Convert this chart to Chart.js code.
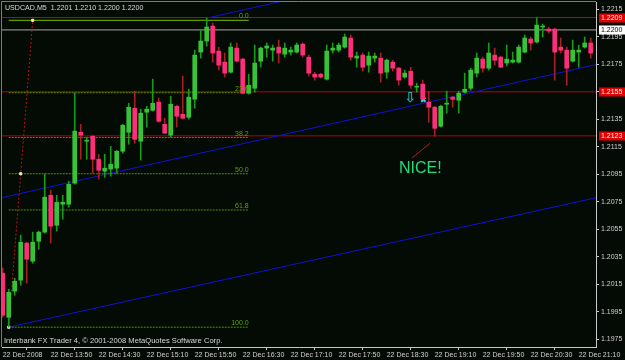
<!DOCTYPE html>
<html>
<head>
<meta charset="utf-8">
<title>USDCAD,M5</title>
<script src="https://cdn.jsdelivr.net/npm/chart.js@4.4.0/dist/chart.umd.min.js"></script>
<style>
    html, body { margin: 0; padding: 0; background: #040a04; }
    #wrap { width: 625px; height: 360px; }
</style>
</head>
<body>
<div id="wrap"><canvas id="myChart" width="625" height="360"></canvas></div>
<script>
// USDCAD M5, 22 Dec 2008, one entry per bar (bar 0 = 13:10)
var opens = [1.20232, 1.19911, 1.20101, 1.20181, 1.2045, 1.20319, 1.20464, 1.2053, 1.20798, 1.2058,
    1.20733, 1.20733, 1.20886, 1.21256, 1.21191, 1.21227, 1.2106, 1.20973, 1.20988, 1.20995,
    1.21118, 1.21256, 1.21431, 1.21191, 1.21402, 1.21416, 1.21475, 1.21314, 1.21235, 1.21445,
    1.21387, 1.21365, 1.21496, 1.21839, 1.21919, 1.22028, 1.21846, 1.21766, 1.21693, 1.21868,
    1.21788, 1.2154, 1.21576, 1.21773, 1.21868, 1.21853, 1.21875, 1.21824, 1.21839, 1.21839,
    1.21897, 1.21802, 1.21678, 1.21678, 1.21642, 1.21853, 1.21853, 1.21875, 1.21941, 1.21795,
    1.21817, 1.21744, 1.21795, 1.21795, 1.21693, 1.21766, 1.21722, 1.21657, 1.217, 1.21584,
    1.21606, 1.21475, 1.21438, 1.213, 1.2146, 1.21511, 1.21489, 1.21547, 1.21576, 1.21686,
    1.21788, 1.21722, 1.21817, 1.21802, 1.21759, 1.21766, 1.21766, 1.21839, 1.21934, 1.21912,
    1.22021, 1.22006, 1.22006, 1.21875, 1.21853, 1.21773, 1.21839, 1.21875, 1.21905];
var highs = [1.20268, 1.20115, 1.20195, 1.20508, 1.20457, 1.2053, 1.20537, 1.20951, 1.20835, 1.20798,
    1.20798, 1.209, 1.2154, 1.21314, 1.2122, 1.21235, 1.21096, 1.21096, 1.21154, 1.21125,
    1.21314, 1.21467, 1.21555, 1.21424, 1.21445, 1.21642, 1.21504, 1.21358, 1.21518, 1.21453,
    1.21664, 1.21569, 1.21853, 1.21999, 1.22086, 1.2205, 1.21875, 1.21832, 1.21905, 1.21905,
    1.21795, 1.21678, 1.2189, 1.21875, 1.21905, 1.2189, 1.21926, 1.21905, 1.21875, 1.21905,
    1.21905, 1.21817, 1.21693, 1.21686, 1.2189, 1.21905, 1.21905, 1.2197, 1.21963, 1.21839,
    1.21832, 1.21839, 1.21832, 1.21832, 1.21788, 1.2178, 1.21729, 1.21708, 1.21729, 1.21613,
    1.21635, 1.21555, 1.21445, 1.21453, 1.21555, 1.21518, 1.21555, 1.21686, 1.21722, 1.21832,
    1.21802, 1.21905, 1.21868, 1.2181, 1.2189, 1.21839, 1.2189, 1.21963, 1.21948, 1.22086,
    1.22043, 1.22021, 1.22013, 1.21941, 1.21875, 1.21926, 1.2189, 1.21948, 1.21941];
var lows = [1.19911, 1.19839, 1.20071, 1.20144, 1.20159, 1.20304, 1.20406, 1.20522, 1.2045, 1.20537,
    1.20624, 1.20711, 1.20878, 1.2106, 1.2106, 1.20958, 1.20915, 1.20929, 1.20937, 1.20958,
    1.21104, 1.21169, 1.21176, 1.21053, 1.21293, 1.21409, 1.21329, 1.21249, 1.2122, 1.21293,
    1.21351, 1.21351, 1.21431, 1.21795, 1.21883, 1.21766, 1.21708, 1.21657, 1.21686, 1.21766,
    1.21533, 1.21533, 1.21547, 1.21729, 1.21802, 1.21773, 1.21759, 1.21802, 1.21817, 1.21832,
    1.21802, 1.21664, 1.21635, 1.2165, 1.21635, 1.21832, 1.21839, 1.21868, 1.2178, 1.21729,
    1.217, 1.21693, 1.21766, 1.2162, 1.21649, 1.217, 1.21598, 1.21649, 1.21576, 1.21547,
    1.21482, 1.21329, 1.21227, 1.21293, 1.21395, 1.21438, 1.21395, 1.2154, 1.21562, 1.21657,
    1.21693, 1.21708, 1.21744, 1.21729, 1.21737, 1.21759, 1.21759, 1.21832, 1.21853, 1.21905,
    1.21948, 1.21977, 1.21635, 1.21832, 1.21598, 1.21766, 1.21729, 1.21868, 1.21795];
var closes = [1.19926, 1.20093, 1.20173, 1.20457, 1.20333, 1.20457, 1.2053, 1.20784, 1.20573, 1.20747,
    1.20747, 1.20878, 1.21264, 1.21235, 1.21198, 1.2106, 1.2098, 1.20995, 1.21024, 1.21118,
    1.21307, 1.21438, 1.21205, 1.21395, 1.21424, 1.21467, 1.21336, 1.21249, 1.2146, 1.21373,
    1.21358, 1.21511, 1.21817, 1.21919, 1.22021, 1.21832, 1.21744, 1.21686, 1.21875, 1.21773,
    1.2154, 1.21598, 1.21759, 1.21868, 1.21883, 1.21868, 1.21832, 1.21868, 1.21853, 1.2189,
    1.21817, 1.21686, 1.21657, 1.21657, 1.21846, 1.21868, 1.2189, 1.21948, 1.21802, 1.2181,
    1.21729, 1.2181, 1.2181, 1.21686, 1.2178, 1.21722, 1.21635, 1.21686, 1.21598, 1.21591,
    1.21496, 1.21438, 1.21285, 1.21445, 1.21467, 1.21496, 1.2154, 1.21569, 1.21708, 1.21795,
    1.21722, 1.21832, 1.2178, 1.21729, 1.21788, 1.2178, 1.21875, 1.21941, 1.21905, 1.22035,
    1.22028, 1.21992, 1.21839, 1.21853, 1.21722, 1.21853, 1.21853, 1.21905, 1.21832];

var timeTickBars = [0, 8, 16, 24, 32, 40, 48, 56, 64, 72, 80, 88, 96];
var timeLabels = ['22 Dec 2008', '22 Dec 13:50', '22 Dec 14:30', '22 Dec 15:10', '22 Dec 15:50',
    '22 Dec 16:30', '22 Dec 17:10', '22 Dec 17:50', '22 Dec 18:30', '22 Dec 19:10',
    '22 Dec 19:50', '22 Dec 20:30', '22 Dec 21:10'];
var priceTicks = [1.1975, 1.1995, 1.2015, 1.2035, 1.2055, 1.2075, 1.2095, 1.2115, 1.2135,
    1.2155, 1.2175, 1.2195, 1.2215];

// horizontal lines with their tag on the price axis
var levelPrices = [1.2209, 1.2200, 1.2155, 1.2123];
var levelColors = ['#d00000', '#a8a8a8', '#c00000', '#b00000'];
var levelTagBg = ['#e00000', '#ffffff', '#e00000', '#e00000'];
var levelTagFg = ['#ffffff', '#000000', '#ffffff', '#ffffff'];

// fibonacci retracement: anchors (bar, price) and levels
var fibLowBar = 1, fibLow = 1.19839;
var fibHighBar = 5, fibHigh = 1.2207;
var fibEndBar = 41;
var fibLevels = [0, 23.6, 38.2, 50, 61.8, 100];

// blue channel lines [bar, price] pairs
var channelLower = [[1, 1.19839], [98.88, 1.2078]];
var channelMiddle = [[-0.12, 1.20781], [98.88, 1.21748]];
var channelUpper = [[34, 1.22086], [52, 1.22262]];
var pointerLine = [[68.2, 1.21068], [71.2, 1.21176]];

var xMin = -0.12, xMax = 98.88;
var yMin = 1.19695, yMax = 1.22203;

var FONT = 'Liberation Sans';
Chart.defaults.font.family = FONT;
Chart.defaults.font.size = 7;

function isUp(i) {
    return closes[i] >= opens[i];
}

var bodies = [];
var wicks = [];
for (var i = 0; i < opens.length; i++) {
    bodies.push({x: i, y: [opens[i], closes[i]]});
    wicks.push({x: i, y: [lows[i], highs[i]]});
}

function seg(points) {
    return points.map(function (p) { return {x: p[0], y: p[1]}; });
}

function lineSet(data, color, dash, order) {
    return {
        type: 'line', data: data, borderColor: color, borderWidth: 1,
        borderDash: dash || [], pointRadius: 0, order: order || 5
    };
}

// no automatic padding, the plot box is fixed like the terminal window
function noPad(s) {
    s.paddingLeft = 0;
    s.paddingRight = 0;
    s.paddingTop = 0;
    s.paddingBottom = 0;
}

var datasets = [
    {
        type: 'bar', data: bodies, grouped: false, barThickness: 4, minBarLength: 1, order: 0,
        backgroundColor: function (c) { return isUp(c.dataIndex) ? '#36c436' : '#ff2d7c'; },
        borderWidth: 0
    },
    {
        type: 'bar', data: wicks, grouped: false, barThickness: 1, order: 1,
        backgroundColor: function (c) { return isUp(c.dataIndex) ? '#1a9a1a' : '#a82020'; }
    }
];

// level lines
levelPrices.forEach(function (p, k) {
    datasets.push(lineSet([{x: xMin, y: p}, {x: xMax, y: p}], levelColors[k], null, 6));
});

// fib lines
var fibPrices = fibLevels.map(function (l) { return fibHigh - (fibHigh - fibLow) * l / 100; });
fibPrices.forEach(function (p, k) {
    datasets.push(lineSet([{x: fibLowBar, y: p}, {x: fibEndBar, y: p}], k == 0 ? '#74c400' : '#4d9400', k == 0 ? null : [2, 1], 4));
});

// fib trend (dotted red, with selection markers)
datasets.push({
    type: 'line',
    data: [{x: fibLowBar, y: fibLow}, {x: (fibLowBar + fibHighBar) / 2, y: (fibLow + fibHigh) / 2}, {x: fibHighBar, y: fibHigh}],
    borderColor: '#c01010', borderWidth: 1, borderDash: [2, 2],
    pointStyle: 'rect', pointRadius: 1.5, pointBackgroundColor: '#f4f0c8', pointBorderColor: '#f4f0c8', order: 3
});

datasets.push(lineSet(seg(channelLower), '#1010d8', null, 4));
datasets.push(lineSet(seg(channelMiddle), '#1010d8', null, 4));
datasets.push(lineSet(seg(channelUpper), '#1010d8', null, 4));
datasets.push(lineSet(seg(pointerLine), '#b02020', null, 4));

// cyan cross marker
datasets.push({
    type: 'scatter', data: [{x: 70.1, y: 1.21493}], pointStyle: 'crossRot', pointRadius: 3,
    borderColor: '#30d8e0', borderWidth: 2, order: 0
});

var overlay = {
    id: 'overlay',
    beforeDraw: function (chart) {
        var ctx = chart.ctx;
        ctx.save();
        ctx.fillStyle = '#040a04';
        ctx.fillRect(0, 0, chart.width, chart.height);
        ctx.restore();
    },
    afterDraw: function (chart) {
        var ctx = chart.ctx, xs = chart.scales.x, ys = chart.scales.y, a = chart.chartArea;
        ctx.save();
        // frame
        ctx.strokeStyle = '#7a7a7a';
        ctx.lineWidth = 1;
        ctx.beginPath();
        ctx.moveTo(a.left - 0.5, a.bottom);
        ctx.lineTo(a.left - 0.5, a.top - 0.5);
        ctx.lineTo(a.right, a.top - 0.5);
        ctx.stroke();

        // fib labels
        ctx.font = '7px ' + FONT;
        ctx.fillStyle = '#5aa800';
        ctx.textAlign = 'right';
        ctx.textBaseline = 'alphabetic';
        fibPrices.forEach(function (p, k) {
            ctx.fillText(fibLevels[k].toFixed(1), xs.getPixelForValue(fibEndBar), ys.getPixelForValue(p) - 2);
        });

        // price tags
        ctx.textAlign = 'left';
        ctx.textBaseline = 'middle';
        levelPrices.forEach(function (p, k) {
            var py = Math.round(ys.getPixelForValue(p));
            ctx.fillStyle = levelTagBg[k];
            ctx.fillRect(a.right + 3, py - 4.5, 26, 9);
            ctx.fillStyle = levelTagFg[k];
            ctx.fillText(p.toFixed(4), a.right + 5, py + 0.5);
        });

        // title and copyright
        ctx.fillStyle = '#d8d8d8';
        ctx.font = '7.1px ' + FONT;
        ctx.fillText('USDCAD,M5  1.2201 1.2210 1.2200 1.2200', 5, 8);
        ctx.font = '7.6px ' + FONT;
        ctx.fillText('Interbank FX Trader 4, \u00a9 2001-2008 MetaQuotes Software Corp.', 4, 341);

        // notes
        ctx.fillStyle = '#22dd77';
        ctx.font = '16px ' + FONT;
        ctx.fillText('NICE!', xs.getPixelForValue(66.05), ys.getPixelForValue(1.2099));
        ctx.fillStyle = '#20b8c8';
        ctx.font = 'bold 14px DejaVu Sans';
        ctx.textAlign = 'center';
        ctx.fillText('\u21e9', xs.getPixelForValue(67.9), ys.getPixelForValue(1.21505));
        ctx.restore();
    }
};

var myChart = new Chart(document.getElementById('myChart').getContext('2d'), {
    type: 'bar',
    data: {datasets: datasets},
    options: {
        responsive: false,
        animation: false,
        devicePixelRatio: 1,
        layout: {autoPadding: false, padding: {left: 2, top: 2, right: 0, bottom: 0}},
        plugins: {legend: {display: false}, tooltip: {enabled: false}},
        scales: {
            x: {
                type: 'linear', min: xMin, max: xMax, offset: false,
                afterFit: function (s) { s.height = 13; noPad(s); },
                afterBuildTicks: function (s) {
                    s.ticks = timeTickBars.map(function (v) { return {value: v}; });
                },
                grid: {drawOnChartArea: false, tickLength: 3, color: '#c8c8c8'},
                border: {color: '#c8c8c8'},
                ticks: {
                    color: '#d0d0d0', align: 'start', autoSkip: false, maxRotation: 0, minRotation: 0, padding: 1,
                    callback: function (v, idx) { return timeLabels[idx]; }
                }
            },
            y: {
                type: 'linear', position: 'right', min: yMin, max: yMax,
                afterFit: function (s) { s.width = 29; noPad(s); },
                afterBuildTicks: function (s) {
                    s.ticks = priceTicks.map(function (v) { return {value: v}; });
                },
                grid: {drawOnChartArea: false, tickLength: 3, color: '#c8c8c8'},
                border: {color: '#c8c8c8'},
                ticks: {
                    color: '#d0d0d0', padding: 2, autoSkip: false,
                    callback: function (v) { return v.toFixed(4); }
                }
            }
        }
    },
    plugins: [overlay]
});
</script>
</body>
</html>
